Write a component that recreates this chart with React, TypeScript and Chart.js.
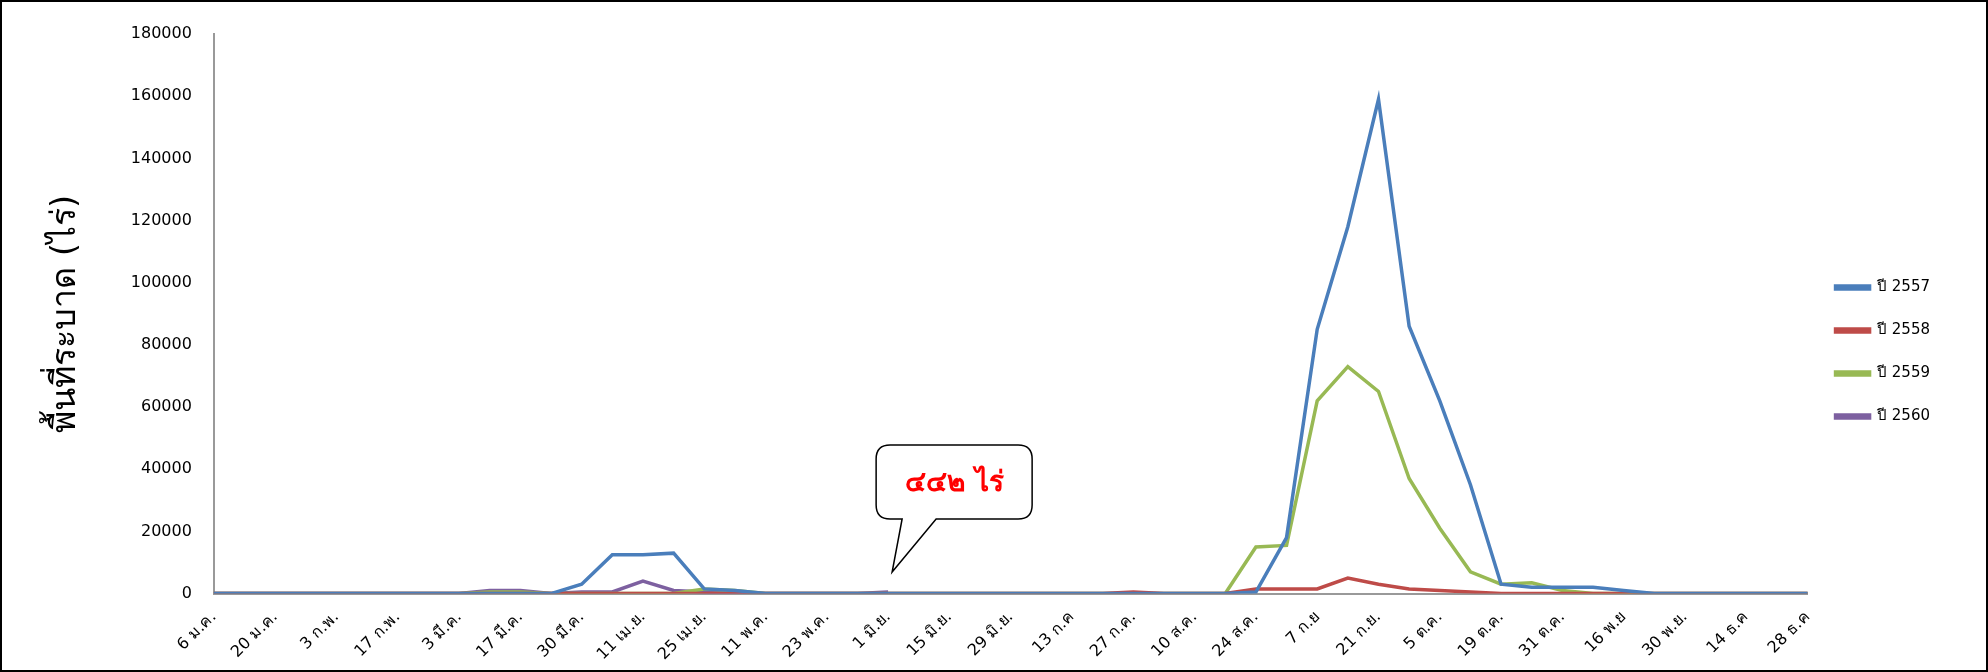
import React, { useEffect, useRef } from 'react';
import Chart from 'chart.js/auto';

// every other week carries a label
const tickLabels = [
  '6 ม.ค.', '20 ม.ค.', '3 ก.พ.', '17 ก.พ.', '3 มี.ค.', '17 มี.ค.', '30 มี.ค.', '11 เม.ย.', '25 เม.ย.',
  '11 พ.ค.', '23 พ.ค.', '1 มิ.ย.', '15 มิ.ย.', '29 มิ.ย.', '13 ก.ค', '27 ก.ค.', '10 ส.ค.', '24 ส.ค.',
  '7 ก.ย', '21 ก.ย.', '5 ต.ค.', '19 ต.ค.', '31 ต.ค.', '16 พ.ย', '30 พ.ย.', '14 ธ.ค', '28 ธ.ค',
];

const y2557 = [
  0, 0, 0, 0, 0, 0, 0, 0, 0, 0, 0, 0, 3000, 12500, 12500, 13000, 1500, 1000, 0, 0, 0, 0, 0, 0, 0, 0,
  0, 0, 0, 0, 0, 0, 0, 0, 500, 18000, 85000, 118000, 159000, 86000, 62000, 35000, 3000, 2000, 2000,
  2000, 1000, 0, 0, 0, 0, 0, 0,
];
const y2558 = [
  0, 0, 0, 0, 0, 0, 0, 0, 0, 0, 0, 0, 0, 0, 0, 0, 0, 0, 0, 0, 0, 0, 0, 0, 0, 0,
  0, 0, 0, 0, 500, 0, 0, 0, 1500, 1500, 1500, 5000, 3000, 1500, 1000, 500, 0, 0, 0,
  0, 0, 0, 0, 0, 0, 0, 0,
];
const y2559 = [
  0, 0, 0, 0, 0, 0, 0, 0, 0, 500, 500, 0, 0, 0, 0, 0, 1500, 1000, 0, 0, 0, 0, 0, 0, 0, 0,
  0, 0, 0, 0, 0, 0, 0, 0, 15000, 15500, 62000, 73000, 65000, 37000, 21000, 7000, 3000, 3500, 1000,
  0, 0, 0, 0, 0, 0, 0, 0,
];
const y2560 = [
  0, 0, 0, 0, 0, 0, 0, 0, 0, 1000, 1000, 0, 500, 500, 4000, 1000, 500, 0, 0, 0, 0, 0, 500,
];

const seriesNames = ['ปี 2557', 'ปี 2558', 'ปี 2559', 'ปี 2560'];
const seriesColors = ['#4a7ebb', '#be4b48', '#98b954', '#7d60a0'];
const calloutText = '๔๔๒ ไร่';

const weeks: string[] = [];
tickLabels.forEach((l, i) => {
  weeks.push(l);
  if (i < tickLabels.length - 1) weeks.push('');
});

const FONT = "Tahoma, 'DejaVu Sans', 'Noto Sans', sans-serif";

const calloutPlugin = {
  id: 'callout',
  afterDraw(chart: any) {
    const { ctx, scales } = chart;
    const idx = y2560.length - 1;
    const tipX = scales.x.getPixelForValue(idx) + 4;
    const tipY = scales.y.getPixelForValue(y2560[idx]) - 20;
    const bx = tipX - 16, by = tipY - 127, bw = 156, bh = 74, r = 14;
    ctx.save();
    ctx.beginPath();
    ctx.moveTo(bx + r, by);
    ctx.lineTo(bx + bw - r, by);
    ctx.quadraticCurveTo(bx + bw, by, bx + bw, by + r);
    ctx.lineTo(bx + bw, by + bh - r);
    ctx.quadraticCurveTo(bx + bw, by + bh, bx + bw - r, by + bh);
    ctx.lineTo(bx + 60, by + bh);
    ctx.lineTo(tipX, tipY);
    ctx.lineTo(bx + 26, by + bh);
    ctx.lineTo(bx + r, by + bh);
    ctx.quadraticCurveTo(bx, by + bh, bx, by + bh - r);
    ctx.lineTo(bx, by + r);
    ctx.quadraticCurveTo(bx, by, bx + r, by);
    ctx.closePath();
    ctx.fillStyle = '#fff';
    ctx.fill();
    ctx.strokeStyle = '#000';
    ctx.lineWidth = 1.5;
    ctx.stroke();
    ctx.fillStyle = '#ff0000';
    ctx.font = `bold 28px ${FONT}`;
    ctx.textAlign = 'center';
    ctx.textBaseline = 'middle';
    ctx.fillText(calloutText, bx + bw / 2, by + bh / 2 + 2);
    ctx.restore();
  },
};

const App: React.FC = () => {
  const chartRef = useRef<HTMLCanvasElement>(null);
  const chartInstance = useRef<Chart | null>(null);

  useEffect(() => {
    document.body.style.margin = '0';
    if (!chartRef.current) return;
    if (chartInstance.current) chartInstance.current.destroy();
    const ctx = chartRef.current.getContext('2d');
    if (!ctx) return;

    const values = [y2557, y2558, y2559, y2560];
    chartInstance.current = new Chart(ctx, {
      type: 'line',
      data: {
        labels: weeks,
        datasets: values.map((v, i) => ({
          label: seriesNames[i],
          data: v,
          borderColor: seriesColors[i],
          backgroundColor: seriesColors[i],
          borderWidth: 3.5,
          pointRadius: 0,
          tension: 0,
        })),
      },
      options: {
        animation: false,
        maintainAspectRatio: false,
        layout: { padding: { top: 32, right: 46, bottom: 0, left: 40 } },
        plugins: {
          tooltip: { enabled: false },
          legend: {
            position: 'right',
            align: 'center',
            labels: {
              boxWidth: 34,
              boxHeight: 3,
              color: '#000',
              padding: 28,
              font: { family: FONT, size: 15 },
            },
          },
        },
        scales: {
          x: {
            grid: { display: false },
            border: { color: '#999', width: 2 },
            ticks: {
              autoSkip: false,
              maxRotation: 45,
              minRotation: 45,
              color: '#000',
              padding: 6,
              font: { family: FONT, size: 16 },
            },
          },
          y: {
            min: 0,
            max: 180000,
            grid: { display: false },
            border: { color: '#999', width: 2 },
            ticks: {
              stepSize: 20000,
              color: '#000',
              padding: 14,
              font: { family: FONT, size: 16 },
              callback: (v: any) => String(v),
            },
            title: {
              display: true,
              text: 'พื้นที่ระบาด (ไร่)',
              color: '#000',
              padding: { bottom: 30 },
              font: { family: FONT, size: 34 },
            },
          },
        },
      },
      plugins: [calloutPlugin],
    });

    return () => {
      if (chartInstance.current) chartInstance.current.destroy();
    };
  }, []);

  return (
    <div style={{ width: 1988, height: 672, boxSizing: 'border-box', border: '2px solid #000', background: '#fff' }}>
      <canvas ref={chartRef}></canvas>
    </div>
  );
};

export default App;
